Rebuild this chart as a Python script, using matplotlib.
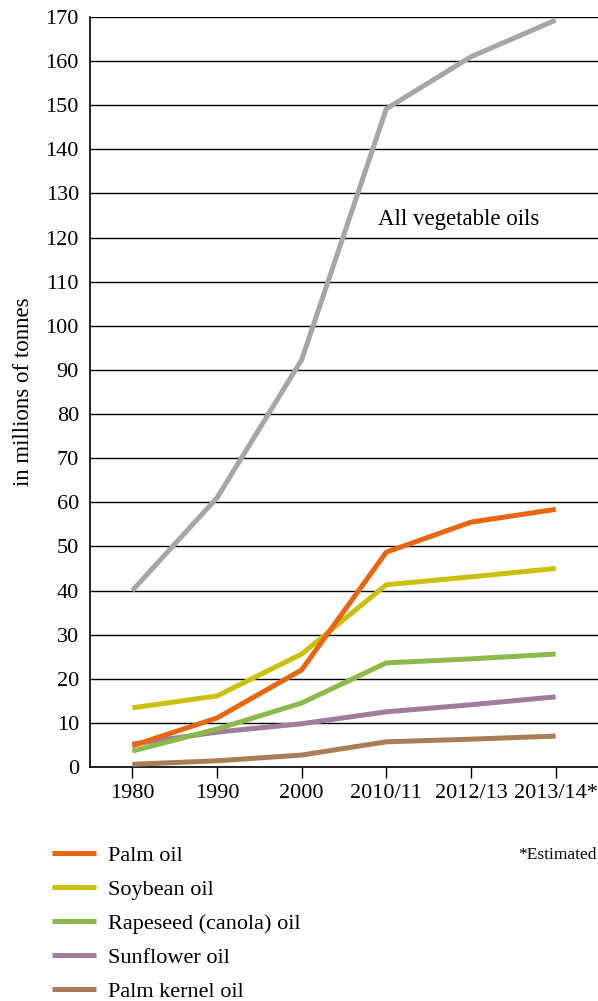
import matplotlib
matplotlib.use("Agg")
import matplotlib.pyplot as plt

plt.rcParams['font.family'] = ['Liberation Serif', 'DejaVu Serif']

periods = ["1980", "1990", "2000", "2010/11", "2012/13", "2013/14*"]
all_veg = [40, 61, 92.3, 149.2, 161, 169.3]
palm = [4.8, 11.1, 22, 48.7, 55.5, 58.4]
soybean = [13.4, 16.1, 25.6, 41.3, 43.1, 45.0]
rapeseed = [3.6, 8.6, 14.5, 23.6, 24.5, 25.6]
sunflower = [5.2, 7.9, 9.8, 12.5, 14.1, 15.9]
palm_kernel = [0.6, 1.4, 2.7, 5.7, 6.3, 7.0]

series = [
    ("Palm oil", palm, "#EA6510"),
    ("Soybean oil", soybean, "#C9C10C"),
    ("Rapeseed (canola) oil", rapeseed, "#8BB94C"),
    ("Sunflower oil", sunflower, "#A07C9F"),
    ("Palm kernel oil", palm_kernel, "#A97D55"),
]

fig = plt.figure(figsize=(5.98, 10.01), dpi=100)
ax = fig.add_axes([0.1505, 0.2338, 0.8495, 0.7492])

x = list(range(len(periods)))
ax.plot(x, all_veg, color="#A6A6A6", lw=3.6, solid_capstyle="butt", zorder=3)
for name, vals, col in reversed(series):
    ax.plot(x, vals, color=col, lw=3.6, solid_capstyle="butt", label=name, zorder=3)

ax.text(2.9, 124, "All vegetable oils", fontsize=16.5, ha="left", va="center")

ax.set_xlim(-0.5, 5.5)
ax.set_ylim(0, 170)
ax.set_yticks(range(0, 171, 10))
ax.set_xticks(x)
ax.set_xticklabels(periods)
ax.yaxis.grid(True, color="black", lw=1)
ax.set_axisbelow(True)
for s in ["top", "right"]:
    ax.spines[s].set_visible(False)
ax.spines["left"].set_linewidth(1.2)
ax.spines["bottom"].set_linewidth(1.2)
ax.tick_params(axis="y", length=0, labelsize=16, pad=8)
ax.tick_params(axis="x", length=8, width=1, labelsize=16, pad=4)
ax.set_ylabel("in millions of tonnes", fontsize=16.5, labelpad=8)

handles, labels = ax.get_legend_handles_labels()
fig.legend(handles[::-1], labels[::-1], loc="upper left",
           bbox_to_anchor=(0.053, 0.1752), frameon=False, fontsize=16,
           handlelength=2.0, handletextpad=0.55, labelspacing=0.6)

fig.text(0.997, 0.146, "*Estimated", fontsize=12.5, ha="right", va="center")

fig.savefig("out.png", dpi=100)
